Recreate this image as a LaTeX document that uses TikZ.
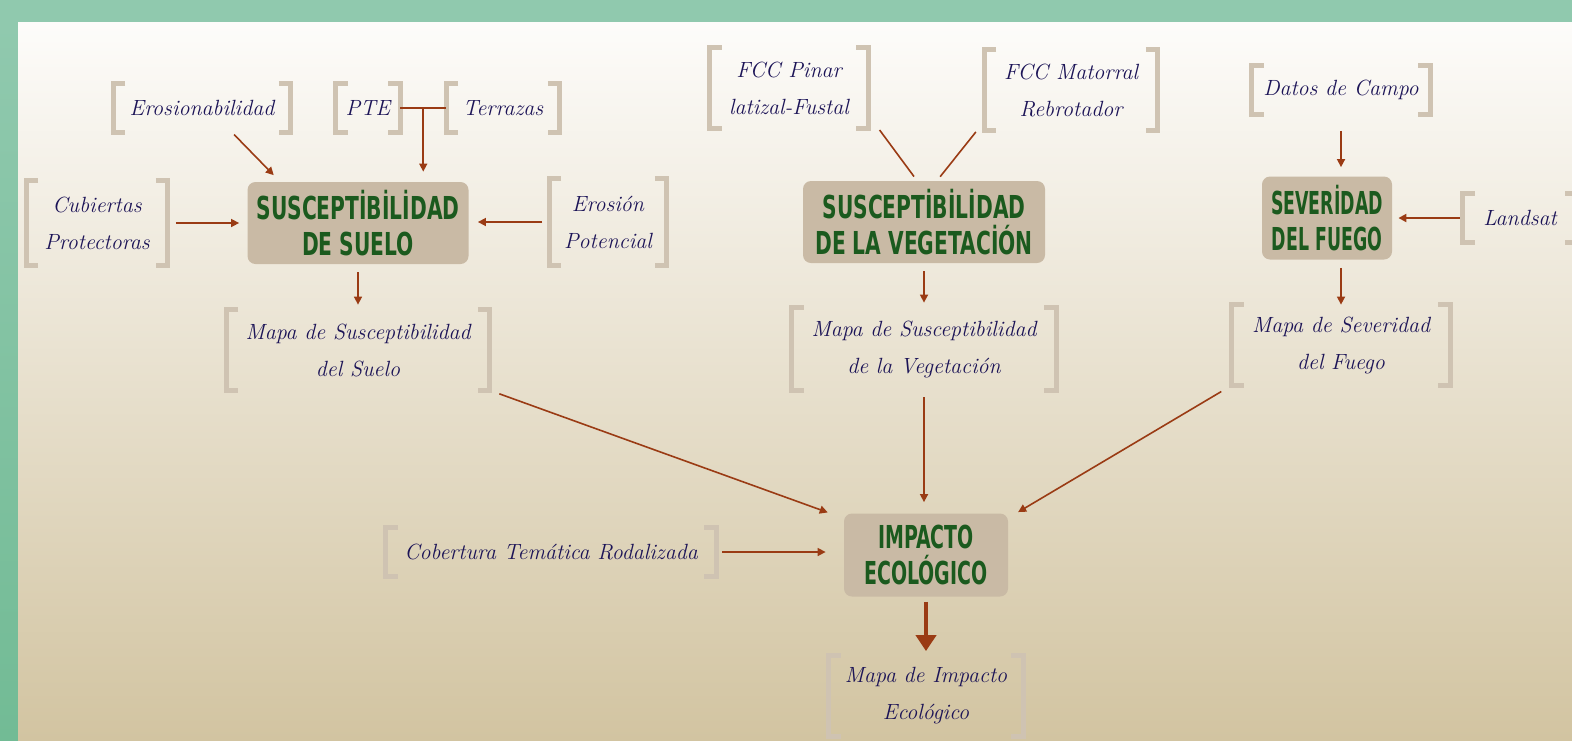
\documentclass[tikz,border=0pt]{standalone}
\usepackage{fontspec}
\usepackage{graphicx}
\usetikzlibrary{arrows.meta,calc}

\newfontfamily\stencil{DejaVu Sans}

\definecolor{greenbar}{HTML}{90C9AE}
\definecolor{greenbot}{HTML}{72BB95}
\definecolor{bgtop}{HTML}{FDFCFA}
\definecolor{bgbot}{HTML}{D2C4A1}
\definecolor{boxfill}{HTML}{C9BAA5}
\definecolor{boxtext}{HTML}{1B5A1E}
\definecolor{ink}{HTML}{1C1457}
\definecolor{brk}{HTML}{CFC3B2}
\definecolor{arrowc}{HTML}{9A3B14}

\newcommand\slim[2][0.64]{\scalebox{#1}[1]{#2}}

\tikzset{
  mainbox/.style={rectangle, rounded corners=4pt, fill=boxfill, text=boxtext,
    font=\stencil\bfseries\fontsize{15.8}{18}\selectfont, align=center, inner sep=0pt},
  srcnode/.style={inner sep=0pt, align=center, text=ink,
    font=\fontsize{11}{18.5}\selectfont\itshape},
  bracket/.style={draw=brk, line width=2.5pt, line cap=butt, line join=miter},
  link/.style={draw=arrowc, line width=0.8pt},
  flow/.style={link, -{Triangle[length=4pt,width=4pt]}, shorten <=3pt, shorten >=4pt},
  bigflow/.style={draw=arrowc, line width=2pt, -{Triangle[length=8pt,width=10pt]}}
}

\begin{document}
\begin{tikzpicture}[x=0.5pt,y=-0.5pt]
\useasboundingbox (0,0) rectangle (1572,740);
\clip (0,0) rectangle (1572,740);

% frame and background
\fill[greenbar] (0,0) rectangle (1572,22);
\shade[top color=greenbar, bottom color=greenbot] (0,22) rectangle (18,740);
\shade[top color=bgtop, bottom color=bgbot] (18,22) rectangle (1572,740);

% suelo
\node[mainbox, minimum width=110.5pt, minimum height=41pt] (suelo) at (358,223)
  {\slim{SUSCEPTİBİLİDAD}\\\slim{DE SUELO}};
\node[srcnode, minimum width=88.5pt, minimum height=24pt] (erosion) at (202,108) {Erosionabilidad};
\node[srcnode, minimum width=32pt, minimum height=24pt] (pte) at (368,108) {PTE};
\node[srcnode, minimum width=56.5pt, minimum height=24pt] (terrazas) at (503,108) {Terrazas};
\node[srcnode, minimum width=70.5pt, minimum height=42.5pt] (cubiertas) at (97,223) {Cubiertas\\Protectoras};
\node[srcnode, minimum width=58.5pt, minimum height=43pt] (potencial) at (608,222) {Erosión\\Potencial};
\node[srcnode, minimum width=131.5pt, minimum height=40pt] (mapasuelo) at (358,350)
  {Mapa de Susceptibilidad\\del Suelo};

% vegetacion
\node[mainbox, minimum width=121pt, minimum height=41pt] (veg) at (924,222)
  {\slim{SUSCEPTİBİLİDAD}\\\slim{DE LA VEGETACİÓN}};
\node[srcnode, minimum width=79pt, minimum height=40pt] (pinar) at (789,88) {FCC Pinar\\latizal-Fustal};
\node[srcnode, minimum width=86.5pt, minimum height=40pt] (matorral) at (1071,90) {FCC Matorral\\Rebrotador};
\node[srcnode, minimum width=132pt, minimum height=41pt] (mapaveg) at (924,349)
  {Mapa de Susceptibilidad\\de la Vegetación};

% fuego
\node[mainbox, minimum width=65pt, minimum height=41.5pt] (fuego) at (1327,218)
  {\slim[0.55]{SEVERİDAD}\\\slim[0.55]{DEL FUEGO}};
\node[srcnode, minimum width=89pt, minimum height=24.5pt] (datos) at (1341,90) {Datos de Campo};
\node[srcnode, minimum width=57pt, minimum height=24pt] (landsat) at (1520,218) {Landsat};
\node[srcnode, minimum width=109pt, minimum height=40pt] (mapasev) at (1341,345)
  {Mapa de Severidad\\del Fuego};

% impacto
\node[mainbox, minimum width=82pt, minimum height=41.5pt] (impacto) at (926,555)
  {\slim[0.6]{IMPACTO}\\\slim[0.6]{ECOLÓGICO}};
\node[srcnode, minimum width=165pt, minimum height=24.5pt] (cobertura) at (551,552)
  {Cobertura Temática Rodalizada};
\node[srcnode, minimum width=97pt, minimum height=40.5pt] (mapaimp) at (926,696)
  {Mapa de Impacto\\Ecológico};

\foreach \n in {erosion,pte,terrazas,cubiertas,potencial,mapasuelo,pinar,matorral,
                mapaveg,datos,landsat,mapasev,cobertura,mapaimp}
  \draw[bracket] ([xshift=6pt]\n.north west) -| (\n.south west) -- ++(6pt,0)
                 ([xshift=-6pt]\n.north east) -| (\n.south east) -- ++(-6pt,0);

% connectors
\draw[flow, shorten <=1.5pt, shorten >=4.5pt] ([xshift=15pt]erosion.south) -- ([xshift=-39pt]suelo.north);
\draw[link] (pte.east) -- (terrazas.west);
\coordinate (ptejoin) at ($(pte.east)!0.5!(terrazas.west)$);
\draw[flow, shorten <=0pt, shorten >=5pt] (ptejoin) -- (ptejoin |- suelo.north);
\draw[flow, shorten <=4pt] (cubiertas.east) -- (cubiertas.east -| suelo.west);
\draw[flow, shorten <=3.5pt, shorten >=4.5pt] (potencial.west) -- (potencial.west -| suelo.east);
\draw[flow, shorten <=4pt, shorten >=2.5pt] (suelo.south) -- (mapasuelo.north);

\draw[link, shorten <=1pt, shorten >=2.5pt] ([xshift=5pt]pinar.south east) -- ([xshift=-3.5pt]veg.north);
\draw[link, shorten <=1pt, shorten >=2.5pt] ([xshift=-3.5pt]matorral.south west) -- ([xshift=6.5pt]veg.north);
\draw[flow, shorten <=4pt, shorten >=2.5pt] (veg.south) -- (mapaveg.north);

\draw[flow, shorten <=8pt, shorten >=4.5pt] (datos.south) -- (datos.south |- fuego.north);
\draw[flow, line width=1.4pt, shorten <=1.5pt, shorten >=3pt] (landsat.west) -- (fuego.east);
\draw[flow, shorten <=4pt, shorten >=0pt] (mapasev.north |- fuego.south) -- (mapasev.north);

\draw[flow, shorten <=5pt, shorten >=1pt] (mapasuelo.south east) -- ([xshift=-7pt]impacto.north west);
\draw[flow, shorten <=3.5pt, shorten >=5.5pt] (mapaveg.south) -- (mapaveg.south |- impacto.north);
\draw[flow, shorten <=6pt, shorten >=1pt] (mapasev.south west) -- ([xshift=4pt]impacto.north east);
\draw[flow, shorten >=9pt] (cobertura.east) -- (cobertura.east -| impacto.west);
\draw[bigflow, shorten <=2.5pt, shorten >=2pt] (impacto.south) -- (mapaimp.north);
\end{tikzpicture}
\end{document}
